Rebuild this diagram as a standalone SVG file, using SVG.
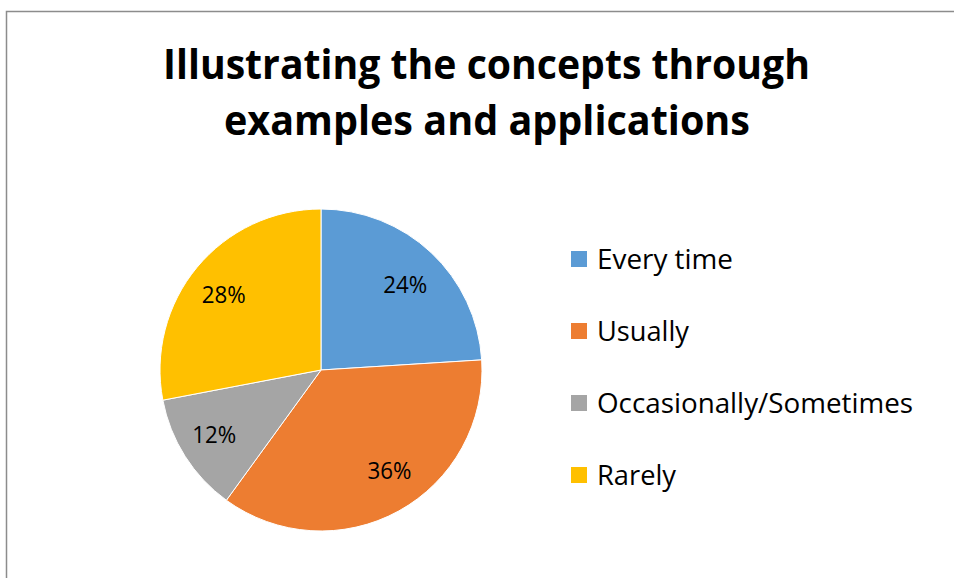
<svg xmlns="http://www.w3.org/2000/svg" width="954" height="578" viewBox="0 0 954 578">
<style>
.title{font-family:"Open Sans","Liberation Sans",sans-serif;font-weight:bold;font-size:42px;fill:#000}
.lbl{font-family:"Open Sans","Liberation Sans",sans-serif;font-size:23.5px;fill:#000}
.leg{font-family:"Open Sans","Liberation Sans",sans-serif;font-size:27px;fill:#000}
.slice{stroke:#fff;stroke-width:1}
</style>
<rect x="0" y="0" width="954" height="578" fill="#fff"/>
<path d="M6.5,578 V11.5 H954" fill="none" stroke="#8c8c8c" stroke-width="1.5"/>
<g id="title">
<text class="title" x="486.5" y="78.5" text-anchor="middle" textLength="647" lengthAdjust="spacingAndGlyphs">Illustrating the concepts through</text>
<text class="title" x="487" y="135" text-anchor="middle" textLength="526" lengthAdjust="spacingAndGlyphs">examples and applications</text>
</g>
<g id="pie">
<g id="slice-every-time">
<path class="slice" fill="#5B9BD5" d="M321,370 L321,209 A161,161 0 0 1 481.68,359.89 Z"/>
<text class="lbl" x="405.3" y="293.3" text-anchor="middle" textLength="44" lengthAdjust="spacingAndGlyphs">24%</text>
</g>
<g id="slice-usually">
<path class="slice" fill="#ED7D31" d="M321,370 L481.68,359.89 A161,161 0 0 1 226.37,500.25 Z"/>
<text class="lbl" x="389.5" y="479.3" text-anchor="middle" textLength="44" lengthAdjust="spacingAndGlyphs">36%</text>
</g>
<g id="slice-occasionally">
<path class="slice" fill="#A5A5A5" d="M321,370 L226.37,500.25 A161,161 0 0 1 162.85,400.17 Z"/>
<text class="lbl" x="214.2" y="443.3" text-anchor="middle" textLength="44" lengthAdjust="spacingAndGlyphs">12%</text>
</g>
<g id="slice-rarely">
<path class="slice" fill="#FFC000" d="M321,370 L162.85,400.17 A161,161 0 0 1 321,209 Z"/>
<text class="lbl" x="223.8" y="302.7" text-anchor="middle" textLength="44" lengthAdjust="spacingAndGlyphs">28%</text>
</g>
</g>
<g id="legend">
<g id="legend-every-time">
<rect x="571" y="251" width="16" height="16" fill="#5B9BD5"/>
<text class="leg" x="597" y="268.5" textLength="136" lengthAdjust="spacingAndGlyphs">Every time</text>
</g>
<g id="legend-usually">
<rect x="571" y="323" width="16" height="16" fill="#ED7D31"/>
<text class="leg" x="597" y="340.5" textLength="92" lengthAdjust="spacingAndGlyphs">Usually</text>
</g>
<g id="legend-occasionally">
<rect x="571" y="395" width="16" height="16" fill="#A5A5A5"/>
<text class="leg" x="597" y="412.5" textLength="316" lengthAdjust="spacingAndGlyphs">Occasionally/Sometimes</text>
</g>
<g id="legend-rarely">
<rect x="571" y="467" width="16" height="16" fill="#FFC000"/>
<text class="leg" x="597" y="484.5" textLength="79" lengthAdjust="spacingAndGlyphs">Rarely</text>
</g>
</g>
</svg>
